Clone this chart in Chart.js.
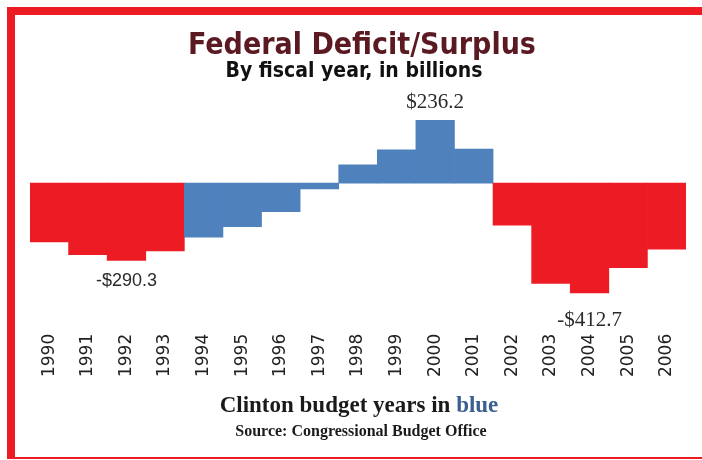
<!DOCTYPE html>
<html>
<head>
<meta charset="utf-8">
<script src="https://cdn.jsdelivr.net/npm/chart.js@4.4.1/dist/chart.umd.min.js"></script>
<style>
    body { margin: 0; background: #fff; }
    #wrap { position: relative; width: 702px; height: 460px; overflow: hidden; }
    #frame {
        position: absolute; left: 7px; top: 7px; width: 695px; height: 452px;
        box-sizing: border-box;
        border-left: 8px solid #ed1c24;
        border-top: 8px solid #ed1c24;
        border-bottom: 2px solid #ed1c24;
    }
    #chartBox { position: absolute; left: 0; top: 0; width: 702px; height: 460px; }
    .txt { position: absolute; white-space: nowrap; transform: translateX(-50%); }
    #title {
        left: 362px; top: 27px;
        font: bold 30px "DejaVu Sans Condensed", "DejaVu Sans", sans-serif;
        font-stretch: condensed;
        color: #5b1a22; line-height: 34px;
    }
    #subtitle {
        left: 354px; top: 58px;
        font: bold 21px "DejaVu Sans Condensed", "DejaVu Sans", sans-serif;
        font-stretch: condensed;
        color: #111; line-height: 24px;
    }
    #caption {
        left: 359px; top: 391px;
        font: bold 23px "Liberation Serif", serif;
        color: #1a1a1a; line-height: 27px;
    }
    #caption span { color: #3b5f8f; }
    #source {
        left: 361px; top: 421px;
        font: bold 16px "Liberation Serif", serif;
        color: #1a1a1a; line-height: 19px;
    }
</style>
</head>
<body>
<div id="wrap">
    <div id="chartBox"><canvas id="deficitChart"></canvas></div>
    <div id="frame"></div>
    <div class="txt" id="title">Federal Deficit/Surplus</div>
    <div class="txt" id="subtitle">By fiscal year, in billions</div>
    <div class="txt" id="caption">Clinton budget years in <span>blue</span></div>
    <div class="txt" id="source">Source: Congressional Budget Office</div>
</div>
<script>
// Data (billions of dollars, by fiscal year)
const years = ['1990', '1991', '1992', '1993', '1994', '1995', '1996', '1997', '1998',
               '1999', '2000', '2001', '2002', '2003', '2004', '2005', '2006'];
const balance = [-221.0, -269.2, -290.3, -255.1, -203.2, -164.0, -107.4, -21.9, 69.3,
                 125.6, 236.2, 128.2, -157.8, -377.6, -412.7, -318.3, -248.2];
const clintonYears = ['1994', '1995', '1996', '1997', '1998', '1999', '2000', '2001'];
const calloutYears = ['1992', '2000', '2004'];

const RED = '#ed1c24';
const BLUE = '#4f81bd';

const barColors = years.map(y => clintonYears.includes(y) ? BLUE : RED);

// Value labels on the extreme bars
const calloutPlugin = {
    id: 'callouts',
    afterDatasetsDraw(chart) {
        const ctx = chart.ctx;
        const meta = chart.getDatasetMeta(0);
        ctx.save();
        ctx.fillStyle = '#2a2a2a';
        ctx.textAlign = 'center';
        calloutYears.forEach(y => {
            const i = years.indexOf(y);
            const bar = meta.data[i];
            const v = balance[i];
            const text = (v < 0 ? '-$' : '$') + Math.abs(v).toFixed(1);
            if (v >= 0) {
                ctx.font = '21px "Liberation Serif", serif';
                ctx.textBaseline = 'alphabetic';
                ctx.fillText(text, bar.x, bar.y - 12);
            } else {
                ctx.font = y === '1992' ? '18px "Liberation Sans", sans-serif' : '21px "Liberation Serif", serif';
                ctx.textBaseline = 'top';
                ctx.fillText(text, bar.x, bar.y + (y === '1992' ? 12 : 17));
            }
        });
        ctx.restore();
    }
};

const chart = new Chart(document.getElementById('deficitChart'), {
    type: 'bar',
    data: {
        labels: years,
        datasets: [{
            data: balance,
            backgroundColor: barColors,
            borderWidth: 0,
            barPercentage: 1.0,
            categoryPercentage: 1.0
        }]
    },
    options: {
        responsive: true,
        maintainAspectRatio: false,
        animation: false,
        layout: { padding: { left: 30, right: 16, top: 103.5, bottom: 77.25 } },
        plugins: {
            legend: { display: false },
            tooltip: { enabled: false }
        },
        scales: {
            x: {
                grid: { display: false },
                border: { display: false },
                // fixed axis band; keep rotated labels from eating into the plot width
                afterFit(scale) {
                    scale.height = 80;
                    scale.paddingLeft = 0;
                    scale.paddingRight = 0;
                },
                ticks: {
                    minRotation: 90,
                    maxRotation: 90,
                    padding: 23,
                    color: '#222',
                    font: { family: '"DejaVu Sans", sans-serif', size: 17 }
                }
            },
            y: {
                display: false,
                min: -450,
                max: 300
            }
        }
    },
    plugins: [calloutPlugin]
});
</script>
</body>
</html>
